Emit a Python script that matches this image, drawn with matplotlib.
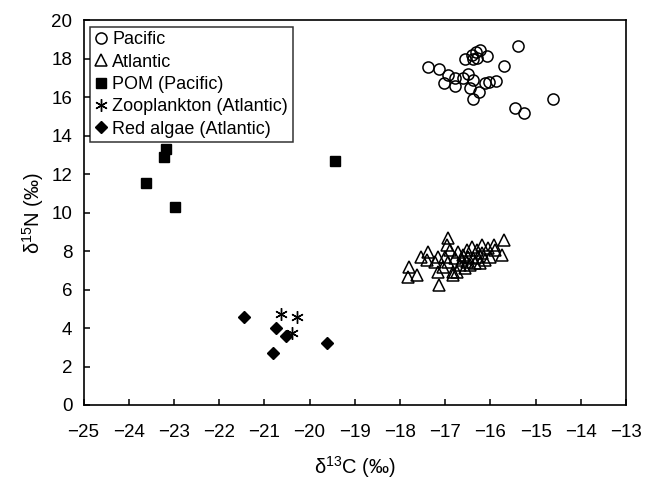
import matplotlib
matplotlib.use("Agg")
import matplotlib.pyplot as plt

plt.rcParams['font.family'] = ['Liberation Sans', 'DejaVu Sans']
plt.rcParams['mathtext.fontset'] = 'custom'
plt.rcParams['mathtext.rm'] = 'Liberation Sans'
plt.rcParams['mathtext.default'] = 'regular'

pacific_c = [-17.37, -17.13, -16.94, -17.02, -16.78, -16.78, -16.57, -16.41, -16.32, -16.24,
             -16.38, -16.08, -16.50, -16.60, -16.38, -16.46, -16.25, -16.39, -16.13, -16.04,
             -15.87, -15.71, -15.39, -15.45, -15.25, -14.61, -16.29]
pacific_n = [17.59, 17.46, 17.16, 16.76, 16.99, 16.60, 17.98, 18.17, 18.34, 18.46,
             17.98, 18.15, 17.20, 16.99, 16.90, 16.47, 16.26, 15.91, 16.73, 16.81,
             16.85, 17.63, 18.67, 15.46, 15.17, 15.90, 18.03]

atlantic_c = [-17.80, -17.83, -17.63, -17.53, -17.37, -17.41, -17.22, -17.15, -17.15, -17.13,
              -17.04, -17.00, -16.93, -16.96, -16.89, -16.93, -16.82, -16.78, -16.71, -16.67,
              -16.63, -16.60, -16.56, -16.52, -16.52, -16.49, -16.45, -16.41, -16.38, -16.34,
              -16.30, -16.27, -16.23, -16.19, -16.18, -16.12, -16.06, -16.01, -15.93, -15.90,
              -15.75, -15.71, -16.74, -16.82]
atlantic_n = [7.19, 6.67, 6.76, 7.68, 7.97, 7.54, 7.45, 6.93, 7.71, 6.24,
              7.19, 7.71, 8.67, 8.32, 8.06, 7.45, 6.93, 7.63, 7.97, 7.28,
              7.54, 7.80, 7.11, 8.06, 7.45, 7.71, 7.28, 8.23, 7.63, 7.37,
              8.06, 7.71, 7.37, 8.32, 7.89, 7.54, 8.15, 7.71, 8.32, 8.06,
              7.80, 8.58, 6.93, 6.76]

pom_c = [-23.18, -23.23, -23.62, -22.98, -19.44]
pom_n = [13.30, 12.88, 11.56, 10.31, 12.69]

zoo_c = [-20.63, -20.27, -20.39]
zoo_n = [4.73, 4.59, 3.73]

algae_c = [-21.44, -20.74, -20.52, -20.80, -19.61]
algae_n = [4.56, 3.99, 3.61, 2.72, 3.24]

x_ticks = list(range(-25, -12))
y_ticks = list(range(0, 21, 2))

fig = plt.figure(figsize=(6.49, 4.83), dpi=100)
ax = fig.add_axes([0.1287, 0.1615, 0.9646 - 0.1287, 0.958 - 0.1615])

ax.plot(pacific_c, pacific_n, linestyle='none', marker='o', ms=8, mfc='none',
        mec='black', mew=1.1, label='Pacific')
ax.plot(atlantic_c, atlantic_n, linestyle='none', marker='^', ms=8.5, mfc='none',
        mec='black', mew=1.1, label='Atlantic')
ax.plot(pom_c, pom_n, linestyle='none', marker='s', ms=7.5, mfc='black',
        mec='black', label='POM (Pacific)')
ax.plot(zoo_c, zoo_n, linestyle='none', marker=(6, 2, 0), ms=9, mfc='black',
        mec='black', mew=1.0, label='Zooplankton (Atlantic)')
ax.plot(algae_c, algae_n, linestyle='none', marker='D', ms=6.2, mfc='black',
        mec='black', label='Red algae (Atlantic)')

ax.set_xlim(-25, -13)
ax.set_ylim(0, 20)
ax.set_xticks(x_ticks)
ax.set_yticks(y_ticks)
ax.set_xticklabels(['\u2212' + str(abs(v)) for v in x_ticks])
ax.tick_params(direction='in', length=4, width=1.1, labelsize=13.5,
               top=False, right=False)
ax.tick_params(axis='x', pad=14)
ax.tick_params(axis='y', pad=8)
for s in ax.spines.values():
    s.set_linewidth(1.2)

ax.set_xlabel('\u03b4$^{13}$C (\u2030)', fontsize=14.5, labelpad=9)
ax.set_ylabel('\u03b4$^{15}$N (\u2030)', fontsize=14.5, labelpad=4)

leg = ax.legend(loc='upper left', bbox_to_anchor=(0.0, 1.0), borderaxespad=0.35,
                fontsize=13, frameon=True, fancybox=False, edgecolor='black',
                handlelength=0.7, handletextpad=0.3, labelspacing=0.3,
                borderpad=0.25, numpoints=1)
leg.get_frame().set_linewidth(1.1)

fig.savefig('out.png', dpi=100)
